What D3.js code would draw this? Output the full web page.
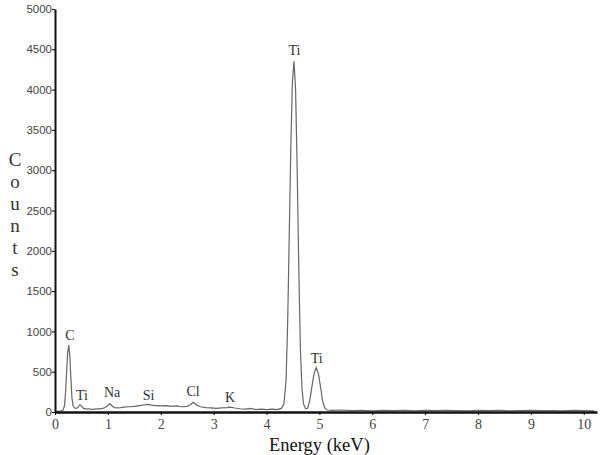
<!DOCTYPE html>
<html>
<head>
<meta charset="utf-8">
<script src="https://cdn.jsdelivr.net/npm/d3@7"></script>
<style>
  body { margin: 0; background: #fff; }
  svg { display: block; }
  .serif { font-family: "Liberation Serif", "Times New Roman", serif; }
  .sans { font-family: "Liberation Sans", Arial, sans-serif; }
</style>
</head>
<body>
<svg width="601" height="455"></svg>
<script>
const svg = d3.select("svg");
const margin = {top: 9, right: 4, bottom: 43, left: 55};
const width = +svg.attr("width") - margin.left - margin.right;
const height = +svg.attr("height") - margin.top - margin.bottom;

// spectrum (keV, counts)
const energy = [0.00, 0.05, 0.10, 0.15, 0.18, 0.20, 0.22, 0.24, 0.26, 0.28, 0.30, 0.32, 0.34, 0.37, 0.40,
  0.44, 0.47, 0.50, 0.54, 0.60, 0.65, 0.70, 0.75, 0.80, 0.85, 0.90, 0.95, 1.00, 1.04, 1.08, 1.12,
  1.20, 1.30, 1.40, 1.50, 1.60, 1.70, 1.76, 1.82, 1.90, 2.00, 2.10, 2.20, 2.30, 2.40, 2.50, 2.56,
  2.62, 2.68, 2.75, 2.85, 2.95, 3.05, 3.15, 3.25, 3.32, 3.40, 3.50, 3.60, 3.70, 3.80, 3.90, 4.00,
  4.10, 4.20, 4.28, 4.33, 4.37, 4.40, 4.43, 4.46, 4.49, 4.52, 4.55, 4.58, 4.61, 4.64, 4.67, 4.70,
  4.74, 4.78, 4.82, 4.86, 4.90, 4.94, 4.98, 5.02, 5.06, 5.10, 5.15, 5.25, 5.40, 5.60, 5.80, 6.00,
  6.20, 6.40, 6.60, 6.80, 7.00, 7.20, 7.40, 7.60, 7.80, 8.00, 8.20, 8.40, 8.60, 8.80, 9.00, 9.20,
  9.40, 9.60, 9.80, 10.00, 10.20];
const counts = [5, 8, 10, 20, 80, 250, 500, 740, 830, 700, 420, 180, 80, 50, 45,
  60, 90, 75, 45, 35, 40, 30, 35, 40, 38, 45, 55, 80, 105, 75, 55,
  50, 60, 65, 70, 80, 90, 95, 85, 80, 75, 80, 70, 75, 65, 70, 90,
  120, 85, 65, 55, 50, 45, 50, 55, 60, 50, 40, 35, 45, 30, 35, 30,
  35, 30, 45, 100, 400, 1100, 2200, 3300, 4100, 4350, 4000, 3000, 1800, 800, 300, 100,
  40, 50, 150, 320, 480, 550, 480, 320, 140, 50, 25, 20, 25, 18, 22, 15,
  20, 18, 22, 15, 20, 16, 22, 18, 15, 20, 17, 22, 15, 18, 20, 16,
  18, 15, 20, 17, 15];

// peak labels: name, energy and label baseline height in counts
const peakNames = ["C", "Ti", "Na", "Si", "Cl", "K", "Ti", "Ti"];
const peakEnergy = [0.28, 0.51, 1.08, 1.77, 2.61, 3.31, 4.53, 4.95];
const peakLabelCounts = [893, 150, 186, 150, 198, 124, 4430, 608];

const xTicks = [0, 1, 2, 3, 4, 5, 6, 7, 8, 9, 10];
const yTicks = [0, 500, 1000, 1500, 2000, 2500, 3000, 3500, 4000, 4500, 5000];
const yLetters = ["C", "o", "u", "n", "t", "s"];

const x = d3.scaleLinear().domain([0, 10.25]).range([0, width]);
const y = d3.scaleLinear().domain([0, 5000]).range([height, 0]);

const g = svg.append("g").attr("transform", `translate(${margin.left},${margin.top})`);

const line = d3.line()
  .x((d, i) => x(energy[i]))
  .y(d => y(d));

g.append("path")
  .datum(counts)
  .attr("fill", "none")
  .attr("stroke", "#666")
  .attr("stroke-width", 1.2)
  .attr("d", line);

// axes
const xAxis = g.append("g")
  .attr("transform", `translate(0,${height})`)
  .call(d3.axisBottom(x).tickValues(xTicks).tickSize(3).tickSizeOuter(0).tickFormat(d3.format("d")));
xAxis.select(".domain").attr("stroke", "#111").attr("stroke-width", 2.5);
xAxis.selectAll("text")
  .attr("class", "serif")
  .attr("font-family", null)
  .attr("font-size", 14)
  .attr("fill", "#444")
  .attr("dy", "0.75em");

const yAxis = g.append("g")
  .call(d3.axisLeft(y).tickValues(yTicks).tickSize(3).tickSizeOuter(0).tickFormat(d3.format("d")));
yAxis.select(".domain").attr("stroke", "#111").attr("stroke-width", 2);
yAxis.selectAll("text")
  .attr("class", "sans")
  .attr("font-size", 11.5)
  .attr("fill", "#444")
  .attr("x", -3);

g.selectAll(".peak")
  .data(peakNames)
  .enter()
  .append("text")
  .attr("class", "serif")
  .attr("x", (d, i) => x(peakEnergy[i]))
  .attr("y", (d, i) => y(peakLabelCounts[i]))
  .attr("text-anchor", "middle")
  .attr("font-size", 14)
  .attr("fill", "#333")
  .text(d => d);

// axis titles
svg.append("text")
  .attr("class", "serif")
  .attr("x", margin.left + x(5))
  .attr("y", 451)
  .attr("text-anchor", "middle")
  .attr("font-size", 18.5)
  .attr("fill", "#111")
  .text("Energy (keV)");

svg.selectAll(".ylab")
  .data(yLetters)
  .enter()
  .append("text")
  .attr("class", "serif")
  .attr("x", 15)
  .attr("y", (d, i) => 166 + i * 22)
  .attr("text-anchor", "middle")
  .attr("font-size", 19)
  .attr("fill", "#333")
  .text(d => d);
</script>
</body>
</html>
